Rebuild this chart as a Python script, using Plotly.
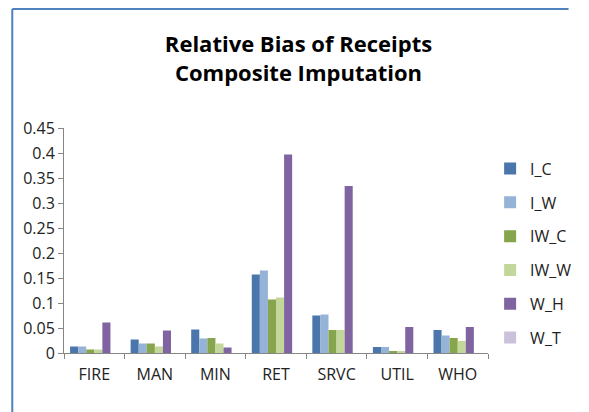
import plotly.graph_objects as go

categories = ["FIRE", "MAN", "MIN", "RET", "SRVC", "UTIL", "WHO"]

I_C = [0.013, 0.027, 0.047, 0.157, 0.075, 0.012, 0.046]
I_W = [0.013, 0.019, 0.029, 0.165, 0.077, 0.012, 0.035]
IW_C = [0.007, 0.019, 0.030, 0.107, 0.046, 0.004, 0.030]
IW_W = [0.007, 0.013, 0.019, 0.111, 0.046, 0.003, 0.024]
W_H = [0.061, 0.045, 0.011, 0.397, 0.334, 0.052, 0.052]
W_T = [0, 0, 0, 0, 0, 0, 0]

series = [
    ("I_C", I_C, "#4A76AC"),
    ("I_W", I_W, "#95B3D7"),
    ("IW_C", IW_C, "#86A54C"),
    ("IW_W", IW_W, "#C4D79B"),
    ("W_H", W_H, "#8064A2"),
    ("W_T", W_T, "#CCC1DA"),
]

FONT = "Open Sans, Lato, sans-serif"
BORDER = "#4F81BD"
AXIS = "#868686"

# page body has an 8px margin, so the figure is 8px smaller than the window
fig = go.Figure()
for name, vals, color in series:
    fig.add_trace(go.Bar(
        x=categories, y=vals, name=name, legendgroup=name,
        marker=dict(color=color, line=dict(width=0)),
    ))

fig.update_layout(
    width=581, height=404,
    paper_bgcolor="white", plot_bgcolor="white",
    barmode="group", bargap=0.2, bargroupgap=0,
    margin=dict(l=56, r=82, t=120, b=59),
    font=dict(family=FONT, size=16, color="#222222"),
    title=dict(
        text="<b>Relative Bias of Receipts<br>Composite Imputation</b>",
        x=0.5, xanchor="center", y=0.89, yanchor="top",
        font=dict(family=FONT, size=22, color="#000000"),
    ),
    legend=dict(
        x=1.005, xanchor="left", y=0.895, yanchor="top",
        itemwidth=30, tracegroupgap=10,
        font=dict(size=16, color="#222222"),
        bgcolor="rgba(0,0,0,0)",
    ),
    xaxis=dict(
        showline=True, linecolor=AXIS, linewidth=1,
        ticks="outside", tickson="boundaries", ticklen=5, tickcolor=AXIS,
        ticklabelstandoff=7,
        showgrid=False, zeroline=False,
    ),
    yaxis=dict(
        range=[0, 0.45], dtick=0.05,
        showline=True, linecolor=AXIS, linewidth=1,
        ticks="outside", ticklen=5, tickcolor=AXIS,
        showgrid=False, zeroline=False,
    ),
    shapes=[
        dict(type="line", xref="paper", yref="paper",
             x0=-0.122, x1=-0.122, y0=-0.27, y1=1.529,
             line=dict(color=BORDER, width=2)),
        dict(type="line", xref="paper", yref="paper",
             x0=-0.122, x1=1.19, y0=1.529, y1=1.529,
             line=dict(color=BORDER, width=2)),
    ],
)

fig.write_html("out.html")
